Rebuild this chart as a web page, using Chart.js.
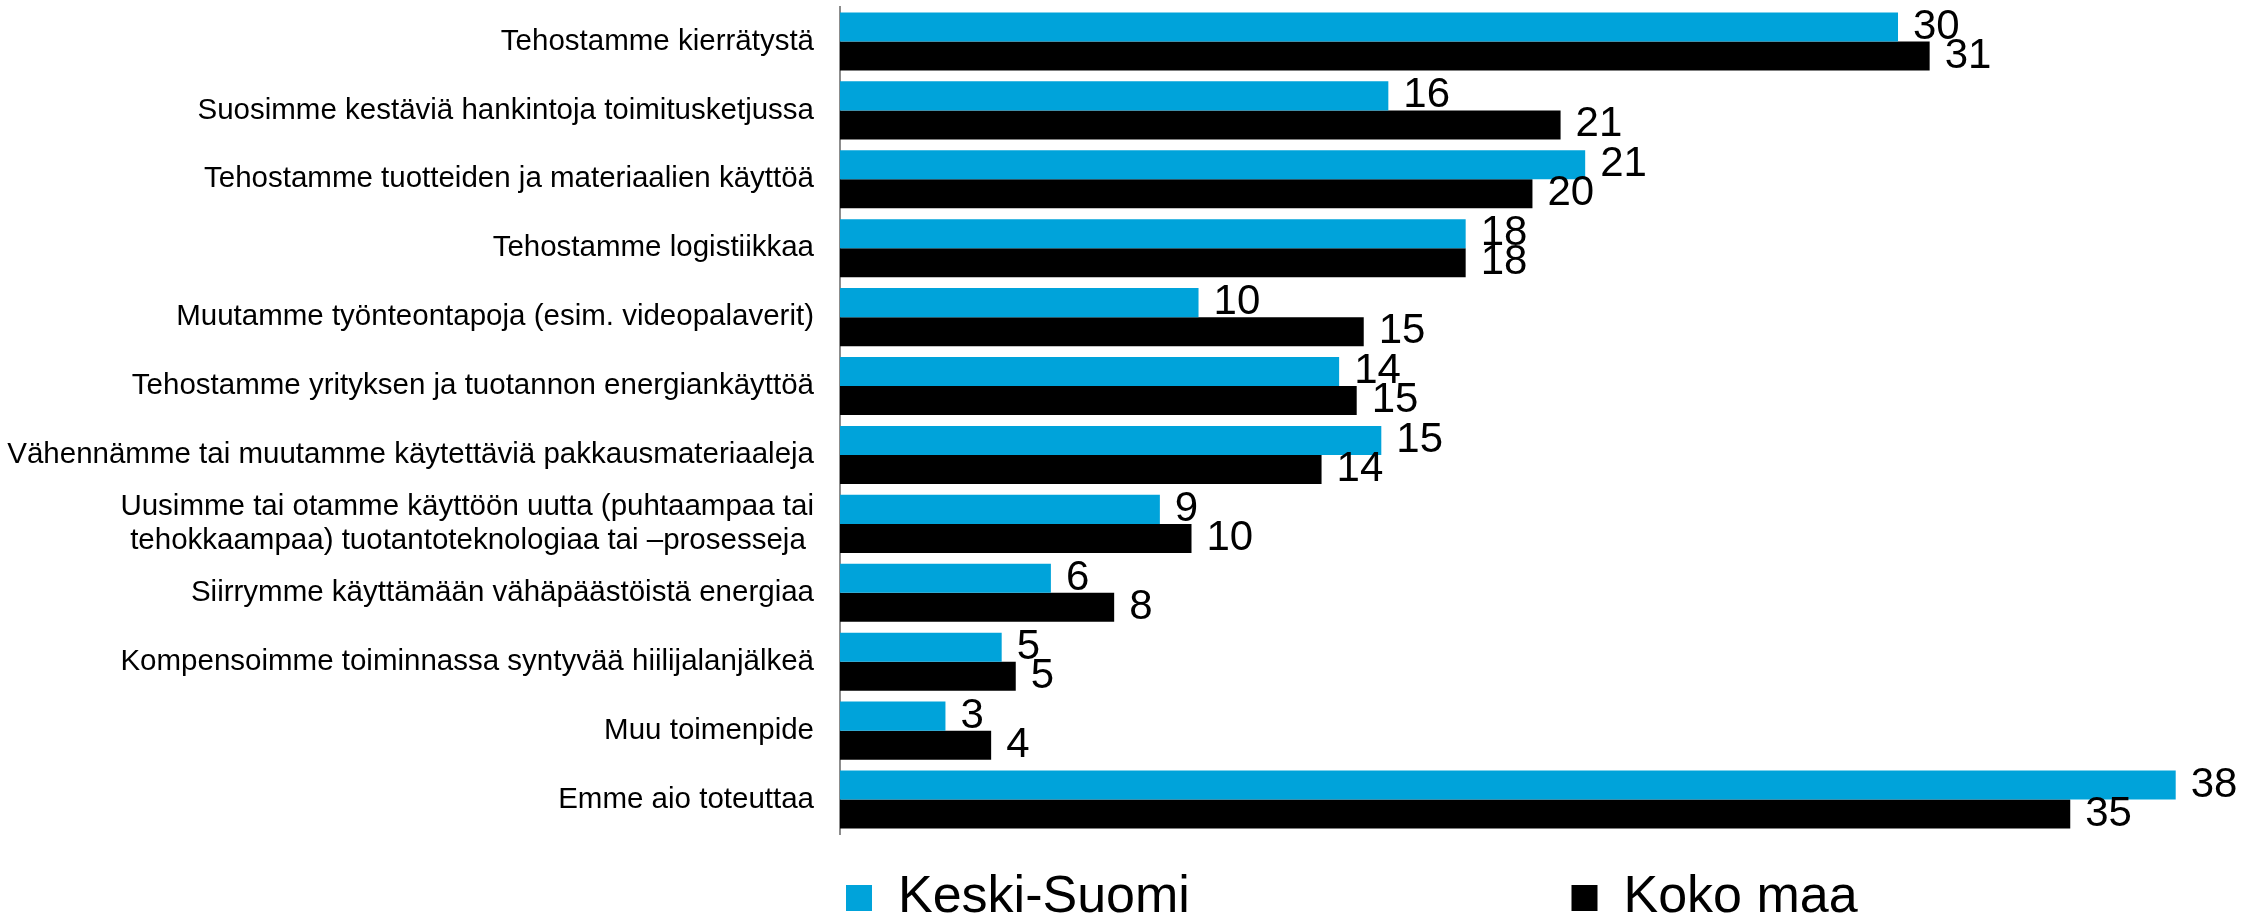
<!DOCTYPE html>
<html>
<head>
<meta charset="utf-8">
<script src="https://cdn.jsdelivr.net/npm/chart.js@4"></script>
<style>
  html, body { margin: 0; padding: 0; background: #fff; overflow: hidden; }
</style>
</head>
<body>
<canvas id="chart" width="2246" height="934"></canvas>
<script>
// categories, top to bottom
const categories = [
  "Tehostamme kierrätystä",
  "Suosimme kestäviä hankintoja toimitusketjussa",
  "Tehostamme tuotteiden ja materiaalien käyttöä",
  "Tehostamme logistiikkaa",
  "Muutamme työnteontapoja (esim. videopalaverit)",
  "Tehostamme yrityksen ja tuotannon energiankäyttöä",
  "Vähennämme tai muutamme käytettäviä pakkausmateriaaleja",
  ["Uusimme tai otamme käyttöön uutta (puhtaampaa tai", "tehokkaampaa) tuotantoteknologiaa tai –prosesseja "],
  "Siirrymme käyttämään vähäpäästöistä energiaa",
  "Kompensoimme toiminnassa syntyvää hiilijalanjälkeä",
  "Muu toimenpide",
  "Emme aio toteuttaa"
];

const seriesNames = ["Keski-Suomi", "Koko maa"];

// values in %, labels show them rounded
const keskiSuomi = [30.1, 15.6, 21.2, 17.8, 10.2, 14.2, 15.4, 9.1, 6.0, 4.6, 3.0, 38.0];
const kokoMaa = [31.0, 20.5, 19.7, 17.8, 14.9, 14.7, 13.7, 10.0, 7.8, 5.0, 4.3, 35.0];

const xMin = 0;
const xMax = 40;

const FONT = "'Liberation Sans', Arial, sans-serif";
Chart.defaults.font.family = FONT;
Chart.defaults.color = "#000";

// numbers at the end of each bar
const valueLabels = {
  id: "valueLabels",
  afterDatasetsDraw(chart) {
    const ctx = chart.ctx;
    ctx.save();
    ctx.font = "42px " + FONT;
    ctx.fillStyle = "#000";
    ctx.textAlign = "left";
    ctx.textBaseline = "middle";
    chart.data.datasets.forEach((ds, i) => {
      chart.getDatasetMeta(i).data.forEach((bar, j) => {
        ctx.fillText(String(Math.round(ds.data[j])), bar.x + 15, bar.y);
      });
    });
    ctx.restore();
  }
};

const ctx = document.getElementById("chart").getContext("2d");

new Chart(ctx, {
  type: "bar",
  data: {
    labels: categories,
    datasets: [
      {
        label: seriesNames[0],
        data: keskiSuomi,
        backgroundColor: "#00A3DA",
        borderWidth: 0,
        barPercentage: 1,
        categoryPercentage: 0.842
      },
      {
        label: seriesNames[1],
        data: kokoMaa,
        backgroundColor: "#000000",
        borderWidth: 0,
        barPercentage: 1,
        categoryPercentage: 0.842
      }
    ]
  },
  options: {
    indexAxis: "y",
    responsive: false,
    animation: false,
    layout: { padding: { top: 7, right: 0, bottom: 0, left: 0 } },
    scales: {
      x: {
        min: xMin,
        max: xMax,
        grid: { display: false, drawTicks: false },
        border: { display: false },
        ticks: { display: false },
        afterFit(scale) { scale.height = 32; }
      },
      y: {
        // tick marks hidden, tickLength only pushes the labels away from the axis
        grid: { display: false, drawTicks: true, tickLength: 36 },
        border: { display: true, color: "#8c8c8c", width: 2 },
        ticks: {
          autoSkip: false,
          padding: -10,
          color: "#000",
          font: { size: 29.5, lineHeight: 1.15 }
        },
        afterFit(scale) { scale.width = 840; }
      }
    },
    plugins: {
      tooltip: { enabled: false },
      legend: {
        position: "bottom",
        align: "start",
        fullSize: false,
        labels: {
          boxWidth: 26,
          boxHeight: 26,
          padding: 6,
          color: "#000",
          font: { size: 52 },
          // keep the two entries far apart like in the original
          generateLabels(chart) {
            const items = Chart.defaults.plugins.legend.labels.generateLabels(chart);
            items[0].text += " ".repeat(26);
            return items;
          }
        }
      }
    }
  },
  plugins: [valueLabels]
});
</script>
</body>
</html>
